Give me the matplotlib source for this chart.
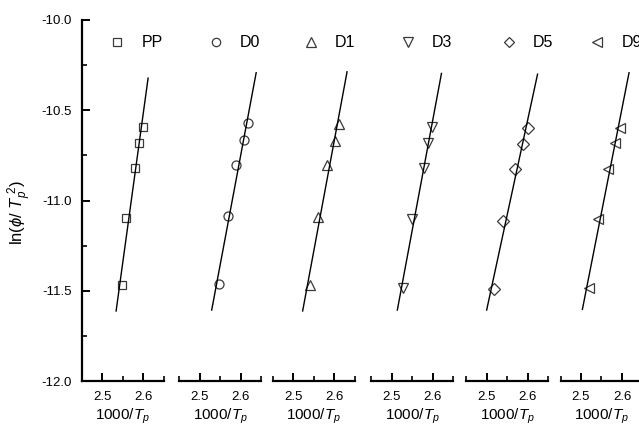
import numpy as np
import matplotlib.pyplot as plt

plt.rcParams['font.family'] = ['Liberation Sans', 'DejaVu Sans']
plt.rcParams['mathtext.fontset'] = 'custom'
plt.rcParams['mathtext.rm'] = 'Liberation Sans'
plt.rcParams['mathtext.it'] = 'Liberation Sans:italic'

# data (1000/Tp, ln(phi/Tp^2))
samples = ['PP', 'D0', 'D1', 'D3', 'D5', 'D9']

x_pp = [2.5488, 2.5585, 2.5788, 2.5895, 2.5985]
y_pp = [-11.466, -11.096, -10.822, -10.684, -10.592]
x_d0 = [2.5471, 2.5683, 2.5878, 2.6088, 2.6185]
y_d0 = [-11.462, -11.085, -10.804, -10.666, -10.573]
x_d1 = [2.5407, 2.5610, 2.5815, 2.6010, 2.6115]
y_d1 = [-11.466, -11.091, -10.806, -10.673, -10.578]
x_d3 = [2.5283, 2.5488, 2.5788, 2.5893, 2.5990]
y_d3 = [-11.483, -11.104, -10.819, -10.681, -10.592]
x_d5 = [2.5185, 2.5390, 2.5698, 2.5878, 2.6000]
y_d5 = [-11.488, -11.113, -10.828, -10.686, -10.597]
x_d9 = [2.5195, 2.5407, 2.5666, 2.5829, 2.5951]
y_d9 = [-11.485, -11.105, -10.828, -10.684, -10.597]

# y span over which each fitted line is drawn
fit_y_span = [(-11.612, -10.322), (-11.607, -10.292), (-11.612, -10.287),
              (-11.607, -10.296), (-11.607, -10.300), (-11.603, -10.292)]

xs = [x_pp, x_d0, x_d1, x_d3, x_d5, x_d9]
ys = [y_pp, y_d0, y_d1, y_d3, y_d5, y_d9]

markers = ['s', 'o', '^', 'v', 'D', '<']
msizes = [6, 6.5, 7.5, 7.5, 6, 7.5]

# panel layout in pixels
W, H = 639, 426
lefts = [81.8, 179.2, 272.8, 371.2, 466.2, 560.5]
pw = 82
bottom_px, top_px = 381, 20
legend_dx = [35.2, 36.8, 38.2, 36.8, 42.8, 36.5]
text_dx = [60, 61, 62, 61, 67, 61.5]

fig = plt.figure(figsize=(W / 100, H / 100), dpi=100)
mc = '#3a3a3a'

for i in range(6):
    ax = fig.add_axes([lefts[i] / W, 1 - bottom_px / H, pw / W, (bottom_px - top_px) / H])
    ax.set_xlim(2.45, 2.65)
    ax.set_ylim(-12.0, -10.0)
    ax.patch.set_alpha(0)

    ax.plot(xs[i], ys[i], linestyle='none', marker=markers[i], ms=msizes[i],
            mfc='none', mec=mc, mew=0.9)
    a, b = np.polyfit(xs[i], ys[i], 1)
    yy = np.array(fit_y_span[i])
    ax.plot((yy - b) / a, yy, color='black', lw=1.0)

    # legend entry on top
    ax.plot([legend_dx[i] / pw], [0.939], transform=ax.transAxes, marker=markers[i],
            ms=msizes[i] - 0.5, mfc='none', mec=mc, mew=0.9, clip_on=False)
    ax.text(text_dx[i] / pw, 0.939, samples[i], transform=ax.transAxes,
            ha='left', va='center', fontsize=11.5, clip_on=False)

    for s in ['top', 'right']:
        ax.spines[s].set_visible(False)
    ax.spines['bottom'].set_linewidth(1.6)
    ax.set_xticks([2.5, 2.6])
    ax.set_xticks([2.45, 2.55, 2.65], minor=True)
    ax.set_xticklabels(['2.5', '2.6'])
    ax.tick_params(axis='x', which='major', direction='in', length=6, width=1.4,
                   labelsize=9.5, pad=7)
    ax.tick_params(axis='x', which='minor', direction='in', length=3.5, width=1.2)
    ax.set_xlabel(r'1000/$T_p$', fontsize=11, labelpad=3)

    if i == 0:
        ax.spines['left'].set_linewidth(1.6)
        ax.set_yticks([-12.0, -11.5, -11.0, -10.5, -10.0])
        ax.set_yticks([-11.75, -11.25, -10.75, -10.25], minor=True)
        ax.set_yticklabels(['-12.0', '-11.5', '-11.0', '-10.5', '-10.0'])
        ax.tick_params(axis='y', which='major', direction='in', length=6, width=1.4,
                       labelsize=9.5, pad=7)
        ax.tick_params(axis='y', which='minor', direction='in', length=3.5, width=1.2)
        ax.set_ylabel(r'ln($\phi$/ $T_p^{\ 2}$)', fontsize=12)
        ax.yaxis.set_label_coords(-0.58, 0.468)
    else:
        ax.spines['left'].set_visible(False)
        ax.set_yticks([])

fig.savefig('out.png', dpi=100)
